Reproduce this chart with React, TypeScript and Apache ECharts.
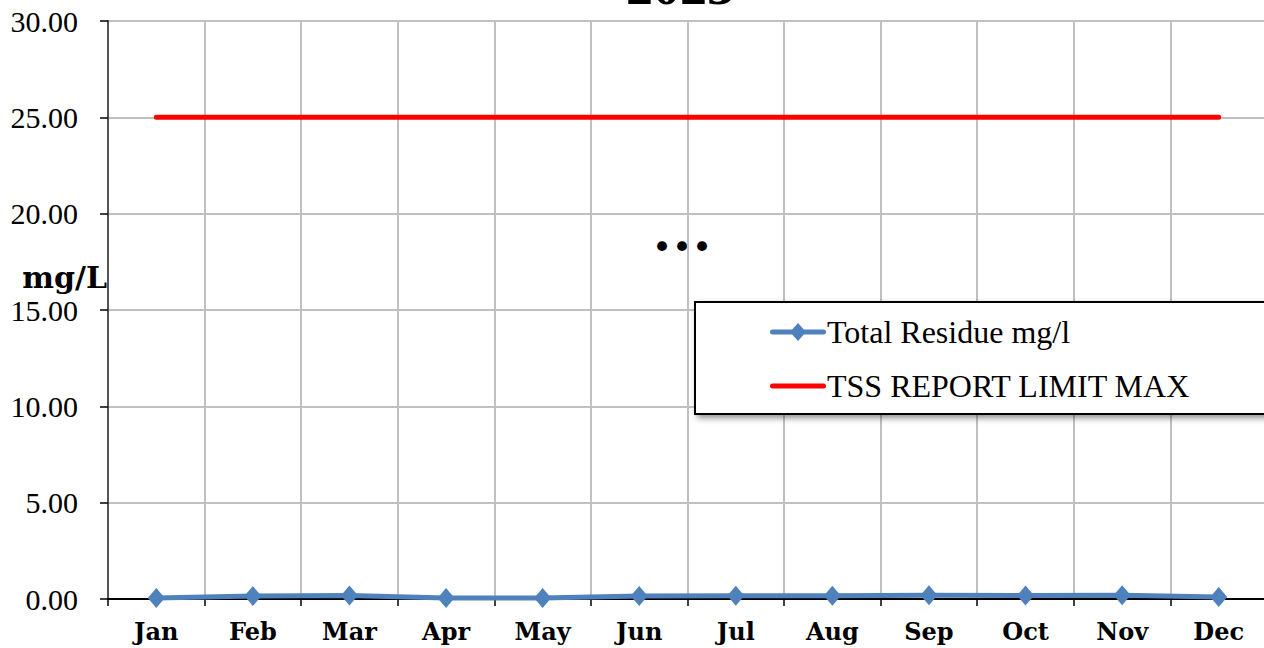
import React, { useEffect, useRef } from "react";
import * as echarts from "echarts";

const months = ["Jan", "Feb", "Mar", "Apr", "May", "Jun", "Jul", "Aug", "Sep", "Oct", "Nov", "Dec"];
const totalResidue = [0.05, 0.15, 0.18, 0.05, 0.05, 0.15, 0.17, 0.17, 0.2, 0.18, 0.2, 0.1];
const tssLimit = [25, 25, 25, 25, 25, 25, 25, 25, 25, 25, 25, 25];
const titleText = "2023";
const yAxisName = "mg/L";

const lineDiamondIcon =
  "path://M0,0M56,20M2.5,7.5H22.2L28,1L33.8,7.5H53.5A2.5,2.5,0,0,1,53.5,12.5H33.8L28,19L22.2,12.5H2.5A2.5,2.5,0,0,1,2.5,7.5Z";
const lineIcon = "path://M0,0M56,20M2.5,7.5H53.5A2.5,2.5,0,0,1,53.5,12.5H2.5A2.5,2.5,0,0,1,2.5,7.5Z";

export default function App() {
  const ref = useRef<HTMLDivElement>(null);
  useEffect(() => {
    if (!ref.current) return;
    const chart = echarts.init(ref.current, null, { renderer: "svg" });
    chart.setOption({
      animation: false,
      backgroundColor: "#ffffff",
      grid: { left: 108, right: 3, top: 21, bottom: 49, containLabel: false },
      graphic: [
        {
          type: "text",
          x: 680,
          y: -14,
          style: {
            text: titleText,
            fontFamily: "Liberation Serif",
            fontWeight: "bold",
            fontSize: 54,
            fill: "#000",
            align: "center",
            verticalAlign: "middle",
          },
        },
        {
          type: "text",
          x: 107,
          y: 277,
          style: {
            text: yAxisName,
            fontFamily: "DejaVu Serif",
            fontWeight: "bold",
            fontSize: 30,
            fill: "#000",
            align: "right",
            verticalAlign: "middle",
          },
        },
        {
          type: "text",
          x: 682,
          y: 247,
          style: {
            text: "•••",
            fontFamily: "DejaVu Sans",
            fontSize: 34,
            fill: "#000",
            align: "center",
            verticalAlign: "middle",
          },
        },
      ],
      legend: {
        orient: "vertical",
        left: 695,
        top: 302,
        padding: [14, 90, 12, 75],
        itemGap: 22,
        itemWidth: 56,
        itemHeight: 20,
        backgroundColor: "#ffffff",
        borderColor: "#000000",
        borderWidth: 2,
        borderRadius: 0,
        shadowColor: "rgba(0,0,0,0.45)",
        shadowBlur: 6,
        shadowOffsetX: 3,
        shadowOffsetY: 3,
        textStyle: { fontFamily: "Liberation Serif", fontSize: 32, color: "#000", padding: [0, 0, 0, -4] },
        data: [
          { name: "Total Residue mg/l", icon: lineDiamondIcon },
          { name: "TSS REPORT LIMIT MAX", icon: lineIcon },
        ],
      },
      xAxis: {
        type: "category",
        data: months,
        boundaryGap: true,
        axisLine: { lineStyle: { color: "#000", width: 2 } },
        axisTick: { show: true, alignWithLabel: false, length: 7, lineStyle: { color: "#000", width: 1.5 } },
        axisLabel: {
          fontFamily: "DejaVu Serif",
          fontWeight: "bold",
          fontSize: 24,
          color: "#000",
          margin: 20,
        },
        splitLine: { show: true, interval: 0, lineStyle: { color: "#c0c0c0", width: 2 } },
      },
      yAxis: {
        type: "value",
        min: 0,
        max: 30,
        interval: 5,
        axisLine: { show: true, lineStyle: { color: "#555", width: 2 } },
        axisTick: { show: true, length: 8, lineStyle: { color: "#000", width: 1.5 } },
        axisLabel: {
          formatter: (v: number) => v.toFixed(2),
          fontFamily: "Liberation Serif",
          fontSize: 30,
          color: "#000",
          margin: 30,
        },
        splitLine: { show: true, lineStyle: { color: "#c0c0c0", width: 2 } },
      },
      series: [
        {
          name: "Total Residue mg/l",
          type: "line",
          data: totalResidue,
          symbol: "diamond",
          symbolSize: [17, 20],
          lineStyle: { color: "#4f81bd", width: 5, cap: "round", join: "round" },
          itemStyle: { color: "#4f81bd" },
          z: 3,
        },
        {
          name: "TSS REPORT LIMIT MAX",
          type: "line",
          data: tssLimit,
          symbol: "none",
          showSymbol: false,
          lineStyle: { color: "#ff0000", width: 5, cap: "round" },
          itemStyle: { color: "#ff0000" },
          z: 2,
        },
      ],
    });
    return () => chart.dispose();
  }, []);
  return (
    <div
      ref={ref}
      style={{ position: "fixed", left: 0, top: 0, width: 1270, height: 648 }}
    />
  );
}
